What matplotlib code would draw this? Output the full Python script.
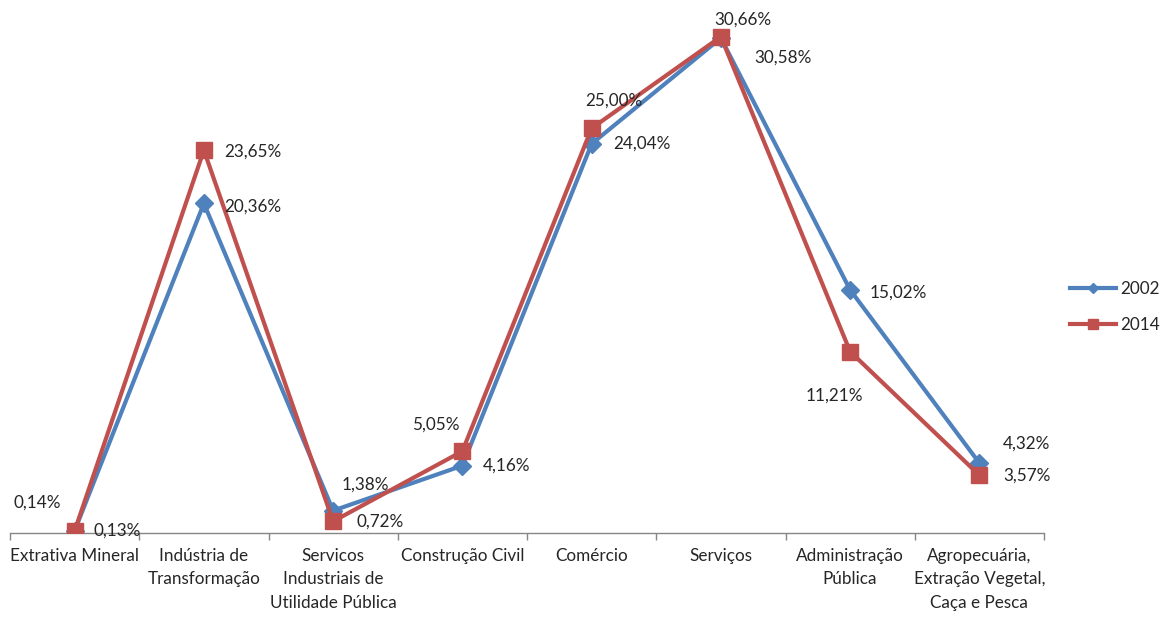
import matplotlib
matplotlib.use("Agg")
import matplotlib.pyplot as plt
from matplotlib.lines import Line2D

categories = ["Extrativa Mineral", "Indústria de\nTransformação", "Servicos\nIndustriais de\nUtilidade Pública",
              "Construção Civil", "Comércio", "Serviços", "Administração\nPública",
              "Agropecuária,\nExtração Vegetal,\nCaça e Pesca"]
v2002 = [0.14, 20.36, 1.38, 4.16, 24.04, 30.58, 15.02, 4.32]
v2014 = [0.13, 23.65, 0.72, 5.05, 25.00, 30.66, 11.21, 3.57]
lab2002 = ["0,14%", "20,36%", "1,38%", "4,16%", "24,04%", "30,58%", "15,02%", "4,32%"]
lab2014 = ["0,13%", "23,65%", "0,72%", "5,05%", "25,00%", "30,66%", "11,21%", "3,57%"]

# label offsets in points (x right, y up)
off2002 = [(-27, 20), (35, -2), (23, 19), (32, 0), (36, 0), (45, -14), (35, -2), (34, 14)]
off2014 = [(31, 0), (35, -1), (34, 0), (-19, 19), (16, 20), (16, 12), (-11, -32), (34, 0)]

blue = "#4F81BD"
red = "#C0504D"
txt = "#262626"
fs = 12.3

plt.rcParams['font.family'] = ['Lato', 'DejaVu Sans']
fig = plt.figure(figsize=(11.68, 6.17), dpi=100)
ax = fig.add_axes([10/1168, 1-533/617, 1034/1168, 518/617])
x = list(range(len(categories)))
ax.plot(x, v2002, color=blue, lw=3, marker='D', ms=9.5, mec=blue, mfc=blue, zorder=3)
ax.plot(x, v2014, color=red, lw=3, marker='s', ms=11.5, mec=red, mfc=red, zorder=4)

for i in x:
    ax.annotate(lab2002[i], (i, v2002[i]), xytext=off2002[i], textcoords='offset points',
                ha='center', va='center', fontsize=fs, color=txt, zorder=5)
    ax.annotate(lab2014[i], (i, v2014[i]), xytext=off2014[i], textcoords='offset points',
                ha='center', va='center', fontsize=fs, color=txt, zorder=5)

ax.set_xlim(-0.5, len(categories) - 0.5)
ax.set_ylim(0, 32)
for s in ['top', 'right', 'left']:
    ax.spines[s].set_visible(False)
ax.spines['bottom'].set_color('#868686')
ax.spines['bottom'].set_linewidth(1.0)
ax.set_yticks([])
ax.set_xticks(x)
ax.set_xticklabels(categories, fontsize=fs, color=txt, linespacing=1.55, va='top')
ax.tick_params(axis='x', which='major', length=0, pad=11)
ax.set_xticks([i - 0.5 for i in range(len(categories) + 1)], minor=True)
ax.tick_params(axis='x', which='minor', length=5, color='#868686', width=1)

handles = [Line2D([0], [0], color=blue, lw=3, marker='D', ms=5),
           Line2D([0], [0], color=red, lw=3, marker='s', ms=7)]
fig.legend(handles, ["2002", "2014"], loc='center left', bbox_to_anchor=(1070/1168, 1-307/617),
           frameon=False, fontsize=fs, handlelength=2.7, handletextpad=0.25, labelspacing=1.15,
           borderpad=0, borderaxespad=0, labelcolor=txt)
ax.patch.set_visible(False)
fig.savefig("out.png", dpi=100)
